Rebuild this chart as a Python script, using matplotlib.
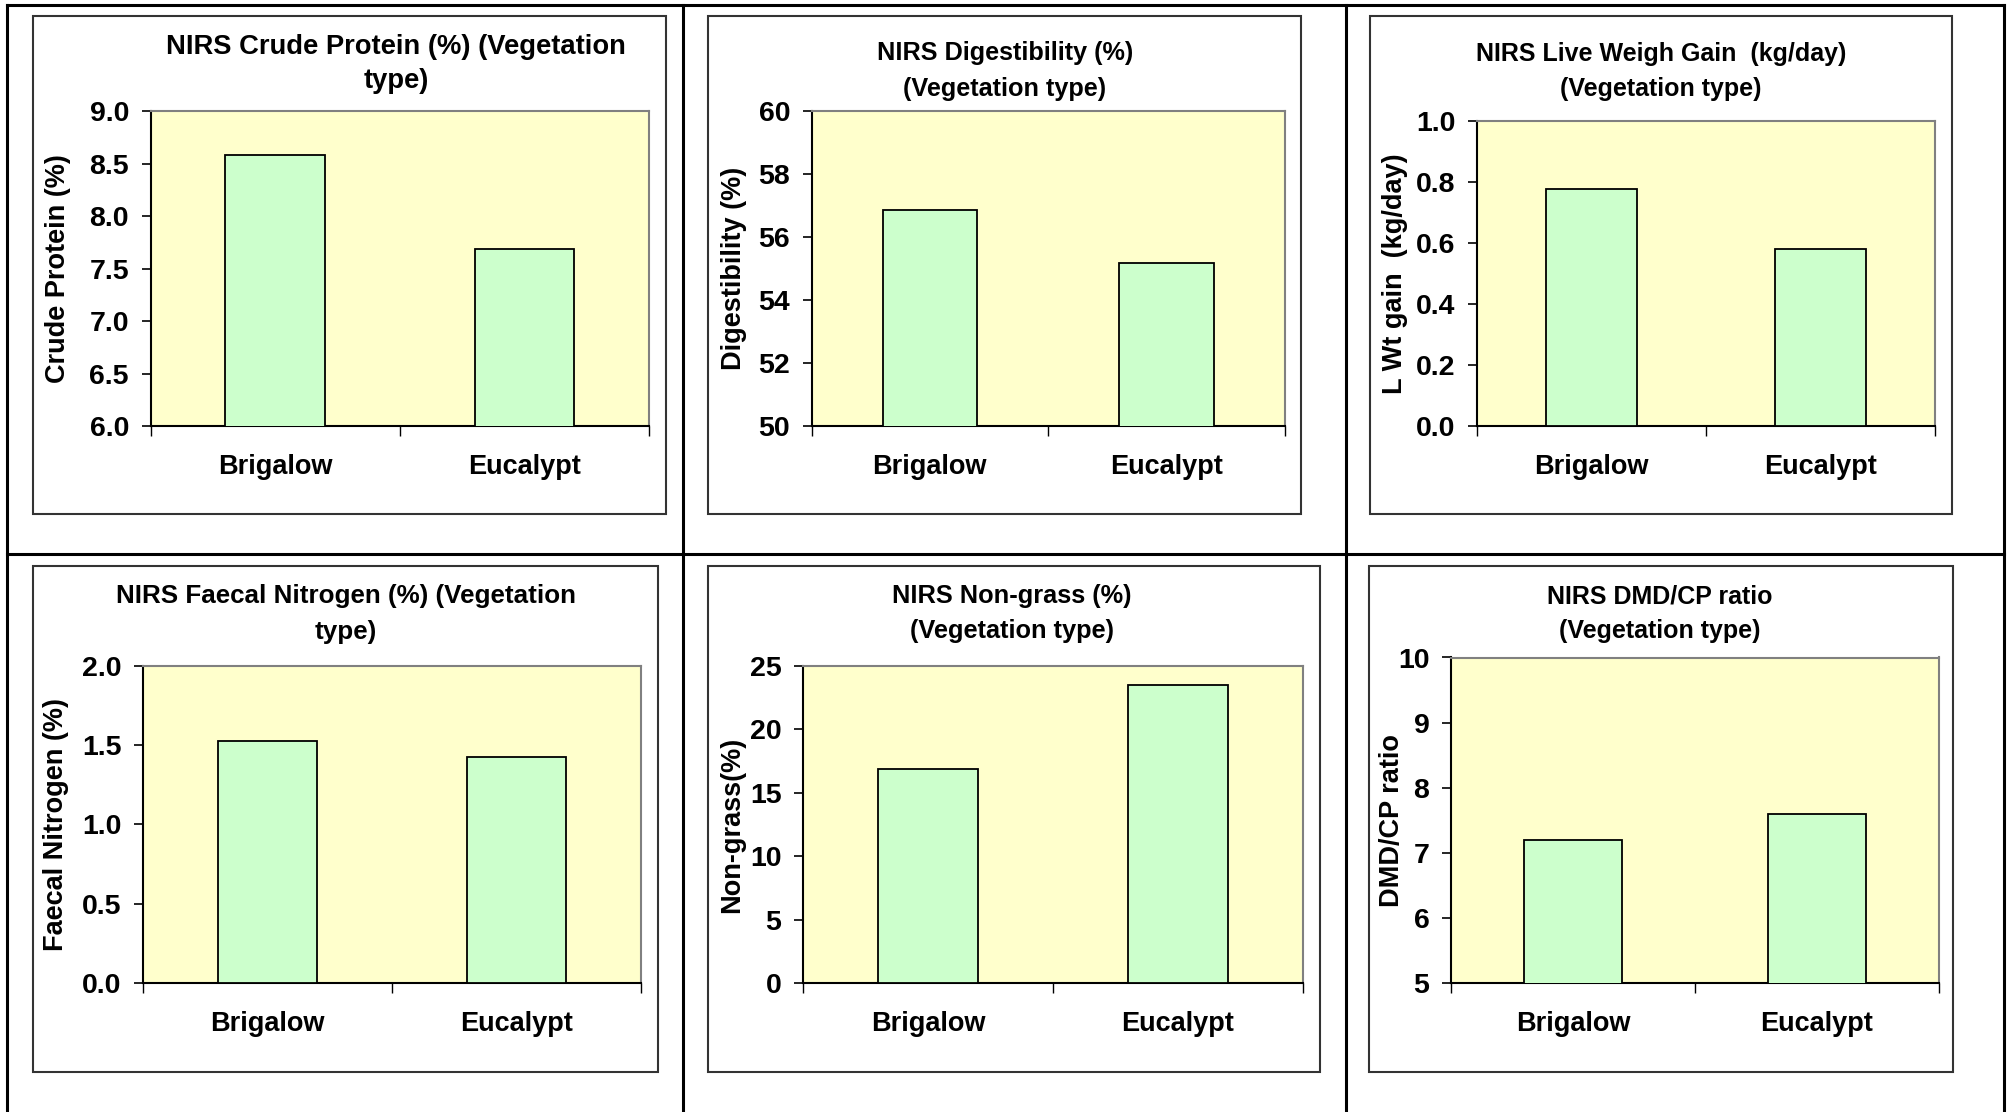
import matplotlib
matplotlib.use('Agg')
import matplotlib.pyplot as plt
from matplotlib.patches import Rectangle
from matplotlib.lines import Line2D
import numpy as np

# ------------------------------------------------------------
# Veriler
# ------------------------------------------------------------
categories = ['Brigalow', 'Eucalypt']

crude_protein = [8.58, 7.69]
digestibility = [56.85, 55.17]
live_weight_gain = [0.775, 0.58]
faecal_nitrogen = [1.525, 1.425]
non_grass = [16.9, 23.5]
dmd_cp_ratio = [7.19, 7.60]

titles = [
    ('NIRS Crude Protein (%) (Vegetation', 'type)'),
    ('NIRS Digestibility (%)', '(Vegetation type)'),
    ('NIRS Live Weigh Gain  (kg/day)', '(Vegetation type)'),
    ('NIRS Faecal Nitrogen (%) (Vegetation', 'type)'),
    ('NIRS Non-grass (%)', '(Vegetation type)'),
    ('NIRS DMD/CP ratio', '(Vegetation type)'),
]
ylabels = ['Crude Protein (%)', 'Digestibility (%)', 'L Wt gain  (kg/day)',
           'Faecal Nitrogen (%)', 'Non-grass(%)', 'DMD/CP ratio']
yranges = [(6.0, 9.0, 0.5), (50, 60, 2), (0.0, 1.0, 0.2),
           (0.0, 2.0, 0.5), (0, 25, 5), (5, 10, 1)]
yformats = ['{:.1f}', '{:.0f}', '{:.1f}', '{:.1f}', '{:.0f}', '{:.0f}']
series = [crude_protein, digestibility, live_weight_gain,
          faecal_nitrogen, non_grass, dmd_cp_ratio]

# ------------------------------------------------------------
# Yerlesim (piksel, ust-sol kokenli)
# ------------------------------------------------------------
W, H = 2008, 1112
plot_boxes = [(150.5, 111, 649, 426), (811.6, 111, 1284.7, 426),
              (1476.8, 120.7, 1935, 426), (143, 665.8, 641, 983),
              (803, 665.8, 1302.6, 983), (1451, 657.5, 1939, 983)]
frames = [(33, 16, 666, 514), (708, 16, 1301, 514), (1370, 16, 1952, 514),
          (33, 566, 658, 1072), (708, 566, 1320, 1072), (1369, 566, 1953, 1072)]
title_pos = [(396, 54, 88), (1005, 60, 96), (1661, 60.5, 96),
             (346, 603, 639), (1012, 603, 638), (1660, 603, 638)]
title_size = [19.7, 18.2, 18, 18.7, 18.3, 18]
ylabel_x = [58, 734, 1395.5, 56, 732, 1392]

FONT = ['Liberation Sans', 'DejaVu Sans']

fig = plt.figure(figsize=(W / 100, H / 100), dpi=100)
fig.patch.set_facecolor('white')


def fx(x):
    return x / W


def fy(y):
    return 1 - y / H


# Tablo cizgileri
for (x0, y0, x1, y1) in [(7.5, 5, 2004, 5), (7.5, 5, 7.5, H),
                         (2004, 5, 2004, H), (683.5, 5, 683.5, H),
                         (1345.7, 5, 1345.7, H), (7.5, 554.3, 2004, 554.3)]:
    fig.add_artist(Line2D([fx(x0), fx(x1)], [fy(y0), fy(y1)],
                          color='black', linewidth=2.2,
                          transform=fig.transFigure))

for i in range(6):
    # Grafik cercevesi
    x0, y0, x1, y1 = frames[i]
    fig.add_artist(Rectangle((fx(x0), fy(y1)), fx(x1 - x0), (y1 - y0) / H,
                             fill=False, edgecolor='#333333', linewidth=1.5,
                             transform=fig.transFigure))

    l, t, r, b = plot_boxes[i]
    ax = fig.add_axes([fx(l), fy(b), fx(r - l), (b - t) / H])
    ax.set_facecolor('#FFFFCC')

    x = np.arange(len(categories))
    ax.bar(x, series[i], width=0.4, color='#CCFFCC', edgecolor='black',
           linewidth=1.3, zorder=3)

    lo, hi, step = yranges[i]
    ax.set_ylim(lo, hi)
    ax.set_xlim(-0.5, 1.5)
    yt = np.arange(lo, hi + step / 2, step)
    ax.set_yticks(yt)
    ax.set_yticklabels([yformats[i].format(v) for v in yt],
                       family=FONT, fontweight='bold', fontsize=20.5)

    # Kategori sinirlarinda isaretler, ortada etiketler
    ax.set_xticks([-0.5, 0.5, 1.5])
    ax.set_xticklabels([])
    ax.set_xticks(x, minor=True)
    ax.set_xticklabels(categories, minor=True, family=FONT,
                       fontweight='bold', fontsize=19.5)
    ax.tick_params(axis='x', which='major', length=7, width=1,
                   direction='out', color='black')
    ax.tick_params(axis='x', which='minor', length=0, pad=20)
    ax.tick_params(axis='y', length=6.5, width=1.2, direction='out',
                   pad=9, color='black')

    for side in ['top', 'right']:
        ax.spines[side].set_color('#808080')
        ax.spines[side].set_linewidth(1.5)
    for side in ['left', 'bottom']:
        ax.spines[side].set_color('black')
        ax.spines[side].set_linewidth(1.5)

    # Baslik (iki satir)
    tx, ty1, ty2 = title_pos[i]
    fig.text(fx(tx), fy(ty1), titles[i][0], ha='center', va='baseline',
             family=FONT, fontweight='bold', fontsize=title_size[i])
    fig.text(fx(tx), fy(ty2), titles[i][1], ha='center', va='baseline',
             family=FONT, fontweight='bold', fontsize=title_size[i])

    # Y ekseni etiketi
    fig.text(fx(ylabel_x[i]), fy((t + b) / 2), ylabels[i], rotation=90,
             ha='center', va='center', family=FONT, fontweight='bold',
             fontsize=19.5)

plt.savefig('out.png', dpi=100)
plt.close()
